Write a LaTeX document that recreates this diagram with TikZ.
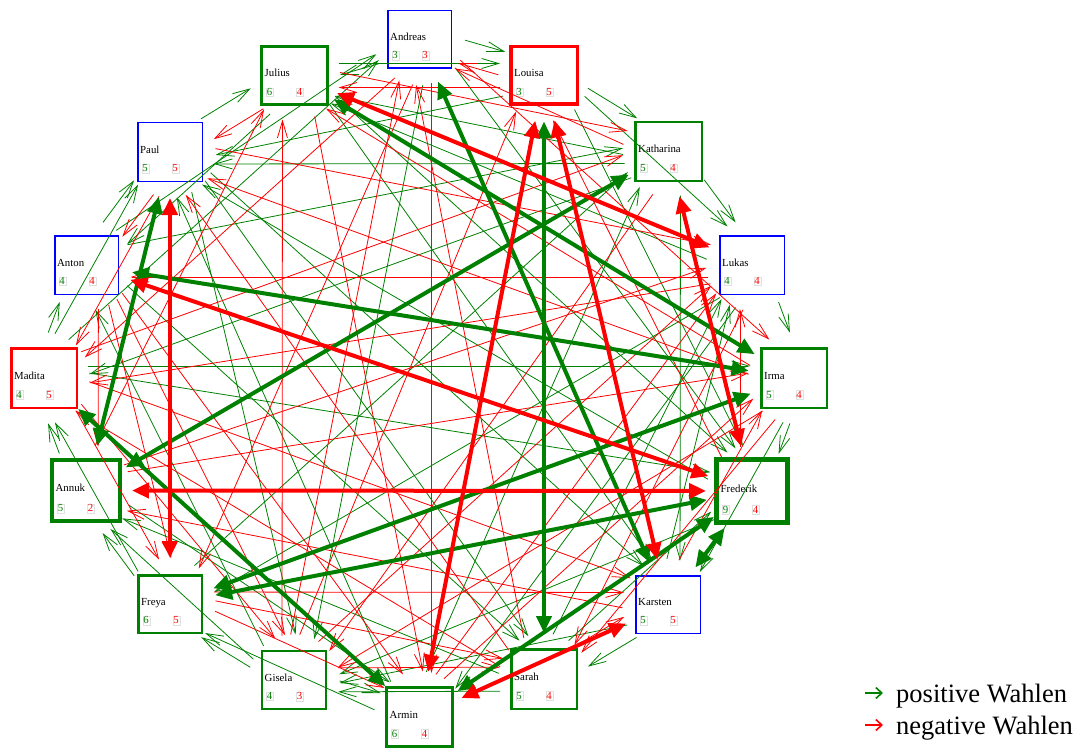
\documentclass[tikz,border=0pt]{standalone}
\usepackage{fontspec}
\setmainfont{Liberation Serif}
\usetikzlibrary{arrows.meta,calc}
\definecolor{pgreen}{RGB}{0,128,0}
\definecolor{pred}{RGB}{255,0,0}
\definecolor{pblue}{RGB}{0,0,255}

% one person: name, left, top, right, bottom, colour, border width, positive count, negative count
\newcommand\person[9]{%
  \node[personbox, draw=#6, line width=#7pt,
        minimum width={(#4-#2-#7)*1pt}, minimum height={(#5-#3-#7)*1pt}]
        (#1) at ({(#2+#4)/2},{(#3+#5)/2}) {};
  \node[nametext, anchor=base west] at ({#2+#7+1.5},{#3+0.52*(#5-#3)}) {#1};
  \node[numtext, text=pgreen, anchor=base west] at ({#2+#7+3},{#3+0.83*(#5-#3)}) {#8};
  \node[numtext, text=pred, anchor=base west] at ({#2+#7+33},{#3+0.83*(#5-#3)}) {#9};
}
% a one-sided choice runs 12pt to the left of the line between the two centres
\newcommand\choice[3]{%
  \draw[#1] ($(#2.center)!12pt!90:(#3.center)$) -- ($(#3.center)!12pt!-90:(#2.center)$);
}

\begin{document}
\begin{tikzpicture}[x=1pt,y=-1pt,
  personbox/.style={rectangle, inner sep=0pt, outer sep=0pt},
  nametext/.style={inner sep=0pt, font=\fontsize{10.8}{12}\selectfont},
  numtext/.style={inner sep=0.8pt, draw=black!12, line width=0.3pt, font=\fontsize{10.8}{12}\selectfont},
  gthin/.style={draw=pgreen, line width=0.8pt, -{Straight Barb[length=17pt,width=10pt]}, shorten >=44pt, shorten <=44pt},
  rthin/.style={draw=pred, line width=0.8pt, -{Straight Barb[length=17pt,width=10pt]}, shorten >=44pt, shorten <=44pt},
  gthick/.style={draw=pgreen, line width=4pt, {Triangle[length=17pt,width=15pt]}-{Triangle[length=17pt,width=15pt]}, shorten >=46pt, shorten <=46pt},
  rthick/.style={draw=pred, line width=4pt, {Triangle[length=17pt,width=15pt]}-{Triangle[length=17pt,width=15pt]}, shorten >=46pt, shorten <=46pt},
  legendtext/.style={inner sep=0pt, anchor=base west, font=\fontsize{26.5}{30}\selectfont}
]
\useasboundingbox (0,0) rectangle (1079,749);

% the sixteen persons around the circle
\person{Andreas}{387}{10}{452}{69}{pblue}{1.5}{3}{3}
\person{Louisa}{509}{45}{579}{106}{pred}{3.5}{3}{5}
\person{Katharina}{634}{121}{703}{182}{pgreen}{2.5}{5}{4}
\person{Lukas}{719}{235}{785}{295}{pblue}{1.5}{4}{4}
\person{Irma}{760}{347}{828}{409}{pgreen}{2.5}{5}{4}
\person{Frederik}{714}{457}{790}{525}{pgreen}{5}{9}{4}
\person{Karsten}{635}{575}{701}{634}{pblue}{1.5}{5}{5}
\person{Sarah}{510}{648}{578}{710}{pgreen}{2.5}{5}{4}
\person{Armin}{385}{686}{454}{748}{pgreen}{3}{6}{4}
\person{Gisela}{261}{650}{327}{710}{pgreen}{2}{4}{3}
\person{Freya}{137}{574}{203}{634}{pgreen}{2.5}{6}{5}
\person{Annuk}{50}{458}{122}{523}{pgreen}{4}{5}{2}
\person{Madita}{10}{347}{78}{409}{pred}{2.5}{4}{5}
\person{Anton}{54}{235}{119}{295}{pblue}{1.5}{4}{4}
\person{Paul}{137}{122}{203}{182}{pblue}{1.5}{5}{5}
\person{Julius}{260}{45}{329}{106}{pgreen}{3}{6}{4}

% one-sided positive choices
\foreach \a/\b in {Andreas/Julius, Andreas/Louisa, Andreas/Frederik, Andreas/Gisela,
  Louisa/Katharina, Louisa/Lukas, Louisa/Frederik, Louisa/Paul,
  Katharina/Lukas, Katharina/Karsten, Katharina/Julius, Katharina/Madita, Katharina/Paul,
  Lukas/Irma, Lukas/Armin, Lukas/Julius, Lukas/Freya,
  Irma/Frederik, Irma/Karsten, Frederik/Paul, Frederik/Gisela,
  Karsten/Sarah, Karsten/Gisela, Karsten/Lukas,
  Sarah/Frederik, Sarah/Gisela, Sarah/Lukas, Sarah/Annuk,
  Armin/Freya, Armin/Paul, Armin/Katharina,
  Gisela/Freya, Gisela/Annuk, Gisela/Anton, Gisela/Armin,
  Freya/Katharina, Freya/Annuk, Freya/Madita,
  Annuk/Madita, Annuk/Armin,
  Madita/Anton, Madita/Paul, Madita/Frederik, Madita/Andreas, Madita/Irma,
  Anton/Paul, Anton/Sarah, Anton/Katharina, Anton/Andreas,
  Paul/Julius, Paul/Karsten, Paul/Sarah, Paul/Gisela,
  Julius/Louisa, Julius/Frederik, Julius/Anton, Julius/Karsten}
  {\choice{gthin}{\a}{\b}}

% one-sided negative choices
\foreach \a/\b in {Andreas/Madita, Andreas/Freya, Andreas/Armin, Andreas/Irma,
  Louisa/Julius, Louisa/Andreas,
  Katharina/Andreas, Katharina/Gisela,
  Lukas/Anton, Lukas/Sarah, Lukas/Madita,
  Irma/Sarah, Irma/Julius, Irma/Paul, Irma/Gisela,
  Frederik/Louisa, Frederik/Lukas,
  Karsten/Irma, Karsten/Annuk,
  Sarah/Andreas, Sarah/Karsten, Sarah/Paul, Sarah/Madita,
  Armin/Irma, Armin/Lukas,
  Gisela/Louisa, Gisela/Lukas, Gisela/Sarah, Gisela/Andreas, Gisela/Julius,
  Freya/Karsten, Freya/Sarah, Freya/Armin,
  Annuk/Irma, Annuk/Julius, Annuk/Lukas,
  Madita/Katharina, Madita/Karsten, Madita/Gisela, Madita/Freya,
  Anton/Gisela, Anton/Armin, Anton/Freya, Anton/Annuk,
  Paul/Lukas, Paul/Anton, Paul/Madita,
  Julius/Armin, Julius/Katharina, Julius/Paul}
  {\choice{rthin}{\a}{\b}}

% mutual positive choices
\foreach \a/\b in {Andreas/Karsten, Louisa/Sarah, Paul/Annuk, Anton/Irma,
  Annuk/Katharina, Freya/Frederik, Freya/Irma, Armin/Frederik,
  Karsten/Frederik, Julius/Irma, Madita/Armin}
  {\draw[gthick] (\a.center) -- (\b.center);}

% mutual negative choices
\foreach \a/\b in {Julius/Lukas, Louisa/Armin, Louisa/Karsten, Paul/Freya,
  Anton/Frederik, Annuk/Frederik, Katharina/Frederik, Karsten/Armin}
  {\draw[rthick] (\a.center) -- (\b.center);}

% legend
\coordinate (lg1) at (865,693);
\coordinate (lg2) at (883,693);
\coordinate (lr1) at (865,725);
\coordinate (lr2) at (883,725);
\draw[draw=pgreen, line width=1.6pt, -{Straight Barb[length=6pt,width=11pt]}] (lg1) -- (lg2);
\draw[draw=pred, line width=1.6pt, -{Straight Barb[length=6pt,width=11pt]}] (lr1) -- (lr2);
\node[legendtext] (lgt) at (896,702) {positive Wahlen};
\node[legendtext] (lrt) at (896,734) {negative Wahlen};
\end{tikzpicture}
\end{document}
